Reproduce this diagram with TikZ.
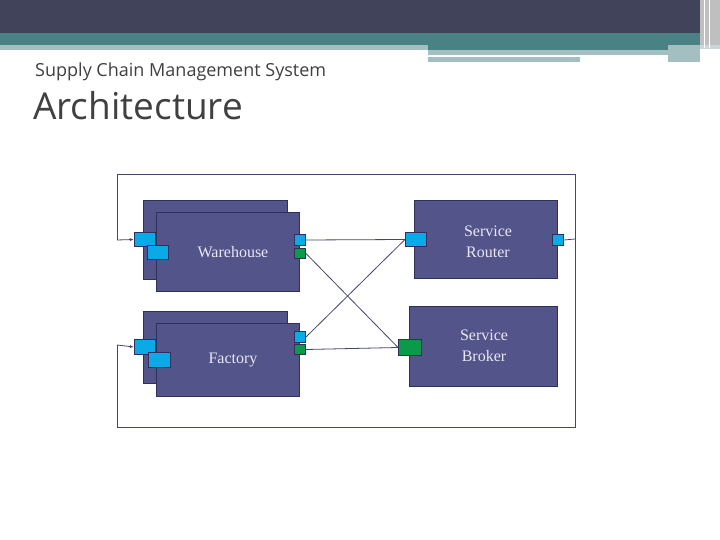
\documentclass[tikz,border=0pt]{standalone}
\usepackage{fontspec}
\usetikzlibrary{arrows.meta}
\newfontfamily\titlefont{Open Sans}
\newfontfamily\lblfont{Liberation Serif}
\begin{document}
\begin{tikzpicture}[x=1pt,y=-1pt,
  box/.style={draw=boxline,fill=boxfill,line width=1.2pt},
  bport/.style={draw=boxline,fill=portblue,line width=1pt},
  gport/.style={draw=boxline,fill=portgreen,line width=1pt},
  lbl/.style={text=labeltext,font=\lblfont\fontsize{16}{21}\selectfont,align=center},
  wire/.style={draw=wirecol,line width=0.8pt},
  arr/.style={wire,-{Latex[length=4pt,width=3pt]}}]
\definecolor{boxfill}{HTML}{52548A}
\definecolor{boxline}{HTML}{2E3058}
\definecolor{portblue}{HTML}{0AAAE8}
\definecolor{portgreen}{HTML}{0A9A4A}
\definecolor{labeltext}{HTML}{E8E8F5}
\definecolor{wirecol}{HTML}{45476A}
\definecolor{bandA}{HTML}{40435A}
\definecolor{bandB}{HTML}{4A8185}
\definecolor{bandC}{HTML}{A3BFC1}
\useasboundingbox (0,0) rectangle (720,540);
\fill[white] (0,0) rectangle (720,540);
% banner
\fill[bandA] (0,0) rectangle (720,33);
\fill[bandB] (0,33) rectangle (720,45);
\fill[bandC] (0,45) rectangle (428,50);
\fill[bandB] (428,45) rectangle (700,50);
\fill[bandC] (428,50) rectangle (668,55);
\fill[bandC] (428,57) rectangle (580,62);
\fill[bandC] (668,45) rectangle (700,62);
\fill[gray!50] (700,0) rectangle (720,45);
\fill[bandC!60] (700,45) rectangle (720,49);
\draw[white,line width=0.6pt] (704,0) -- (704,48) (709,0) -- (709,48);
% titles
\node[anchor=base west,inner sep=0,text=black!75,font=\titlefont\fontsize{18}{22}\selectfont] (sub) at (35,77) {Supply Chain Management System};
\node[anchor=base west,inner sep=0,text=black!75,font=\titlefont\fontsize{37}{44}\selectfont] (ttl) at (33,120) {Architecture};
% outer loop
\coordinate (tl) at (117,174);
\coordinate (tr) at (575,174);
\coordinate (br) at (575,427);
\coordinate (bl) at (117,427);
\coordinate (ra) at (575,239);
\draw[wire] (117,240) -- (tl) -- (tr) -- (br) -- (bl) -- (117,345);
% boxes
\node[box,minimum width=144,minimum height=79,anchor=north west] (wb) at (143,200) {};
\node[box,minimum width=143,minimum height=79,anchor=north west] (w) at (156,212) {};
\node[lbl] (wl) at (233,252) {Warehouse};
\node[box,minimum width=144,minimum height=72,anchor=north west] (fb) at (143,311) {};
\node[box,minimum width=143,minimum height=73,anchor=north west] (f) at (156,323) {};
\node[lbl] (fl) at (233,360) {Factory};
\node[box,minimum width=143,minimum height=78,anchor=north west] (r) at (414,200) {};
\node[lbl] (rl) at (488,242) {Service\\Router};
\node[box,minimum width=148,minimum height=80,anchor=north west] (b) at (409,306) {};
\node[lbl] (bl2) at (484,346) {Service\\Broker};
% ports
\node[bport,minimum width=21,minimum height=14,inner sep=0,anchor=north west] (wp1) at (134,232) {};
\node[bport,minimum width=21,minimum height=14,inner sep=0,anchor=north west] (wp2) at (147,245) {};
\node[bport,minimum width=11,minimum height=11,inner sep=0,anchor=north west] (wo1) at (294,234) {};
\node[gport,minimum width=11,minimum height=10,inner sep=0,anchor=north west] (wo2) at (294,248) {};
\node[bport,minimum width=21,minimum height=15,inner sep=0,anchor=north west] (fp1) at (134,339) {};
\node[bport,minimum width=22,minimum height=15,inner sep=0,anchor=north west] (fp2) at (148,352) {};
\node[bport,minimum width=11,minimum height=11,inner sep=0,anchor=north west] (fo1) at (294,331) {};
\node[gport,minimum width=11,minimum height=10,inner sep=0,anchor=north west] (fo2) at (294,344) {};
\node[bport,minimum width=21,minimum height=14,inner sep=0,anchor=north west] (rp) at (405,232) {};
\node[bport,minimum width=11,minimum height=11,inner sep=0,anchor=north west] (ro) at (552,234) {};
\node[gport,minimum width=23,minimum height=16,inner sep=0,anchor=north west] (bp) at (398,339) {};
% arrows into left ports
\draw[arr] (117,240) -- (wp1.west);
\draw[arr] (117,345) -- (fp1.west);
% connectors
\draw[wire] (wo1.east) -- (rp.west);
\draw[wire] (wo2.east) -- (bp.west);
\draw[wire] (fo1.east) -- (rp.west);
\draw[wire] (fo2.east) -- (bp.west);
\draw[wire] (ro.east) -- (ra);
\end{tikzpicture}
\end{document}
